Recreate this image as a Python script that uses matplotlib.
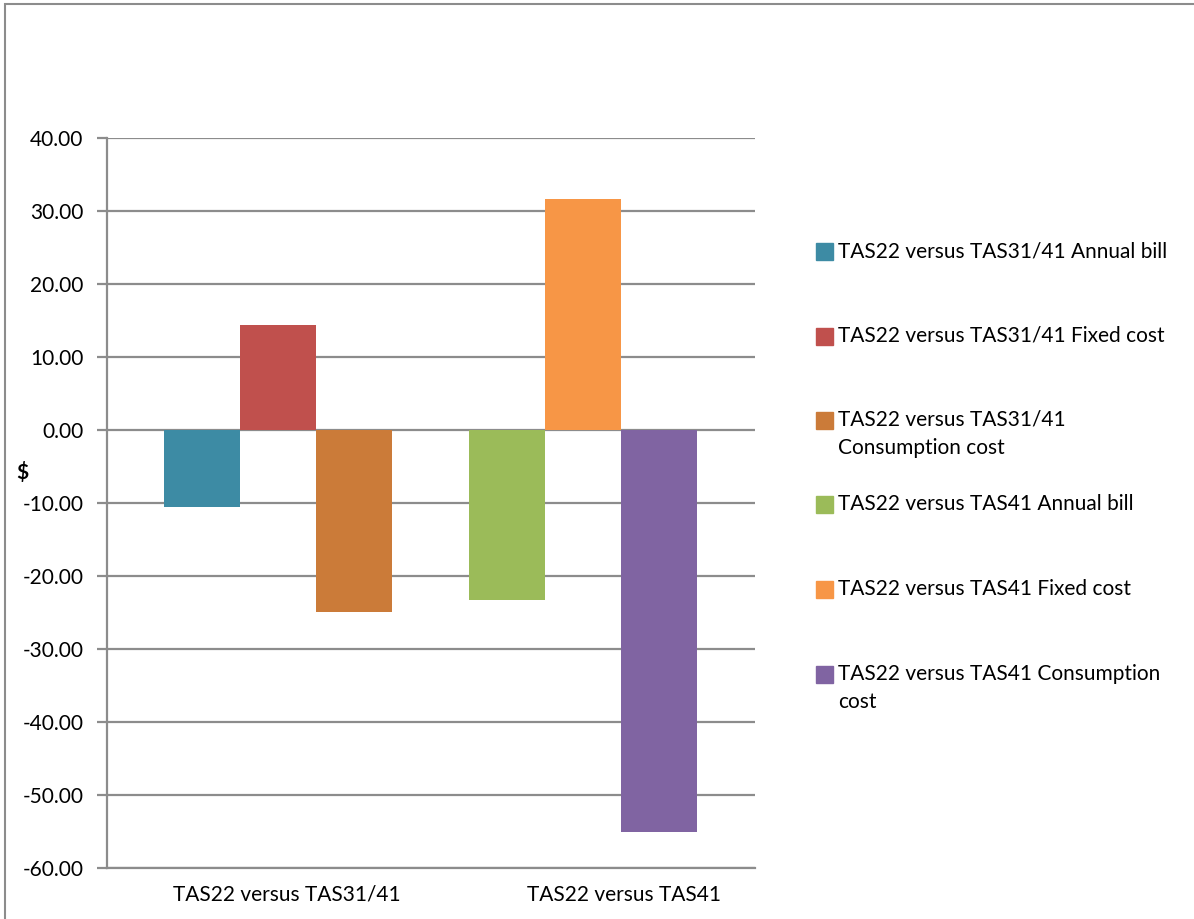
import matplotlib.pyplot as plt
from matplotlib.patches import Rectangle

plt.rcParams['font.family'] = ['Lato', 'DejaVu Sans']

# cost differences ($) for the two tariff comparisons
categories = ["TAS22 versus TAS31/41", "TAS22 versus TAS41"]
series = [
    "TAS22 versus TAS31/41 Annual bill",
    "TAS22 versus TAS31/41 Fixed cost",
    "TAS22 versus TAS31/41\nConsumption cost",
    "TAS22 versus TAS41 Annual bill",
    "TAS22 versus TAS41 Fixed cost",
    "TAS22 versus TAS41 Consumption\ncost",
]
series_cat = [0, 0, 0, 1, 1, 1]
values = [-10.6, 14.35, -24.9, -23.35, 31.6, -55.0]
colors = ['#3D8BA4', '#C0504D', '#CB7B39', '#9BBB59', '#F79646', '#8064A2']

W, H = 1194, 919
fig = plt.figure(figsize=(W / 100, H / 100), dpi=100)

# outer chart border
fig.add_artist(Rectangle((5 / W, -0.1), 1.2, 1 - 4 / H + 0.1, transform=fig.transFigure,
                         fill=False, edgecolor='#8c8c8c', linewidth=1.5))

ax = fig.add_axes([107 / W, 1 - 868 / H, (755 - 107) / W, (868 - 138) / H])

bar_w = 0.249
slot = [0, 1, 2, 0, 1, 2]
for i, (v, c) in enumerate(zip(values, colors)):
    x = series_cat[i] + (slot[i] - 1) * bar_w
    ax.bar(x, v, width=bar_w, color=c, zorder=3)

ax.set_xlim(-0.561, 1.564)
ax.set_ylim(-60, 40)
ax.set_yticks(range(-60, 41, 10))
ax.set_yticklabels([f"{t:.2f}" for t in range(-60, 41, 10)])
ax.set_xticks([0.03, 1.134])
ax.set_xticklabels(categories)

ax.grid(axis='y', color='#8c8c8c', linewidth=1.6, zorder=0)
for s in ['top', 'right']:
    ax.spines[s].set_visible(False)
for s in ['left', 'bottom']:
    ax.spines[s].set_color('#8c8c8c')
    ax.spines[s].set_linewidth(1.6)
ax.tick_params(axis='y', length=7, width=1.6, color='#8c8c8c', pad=10, labelsize=15)
ax.tick_params(axis='x', length=0, pad=12, labelsize=15)

fig.text(22 / W, 1 - 472 / H, "$", fontsize=15, fontweight='bold', ha='center', va='center')

# legend, one entry per series
ys = [252, 337, 421, 505, 590, 675]
for y, lab, c in zip(ys, series, colors):
    fig.add_artist(Rectangle((816 / W, 1 - (y + 8) / H), 17 / W, 17 / H,
                             transform=fig.transFigure, color=c))
    fig.text(838 / W, 1 - (y - 11) / H, lab, fontsize=15, ha='left', va='top',
             linespacing=1.5)

fig.savefig("out.png", dpi=100)
